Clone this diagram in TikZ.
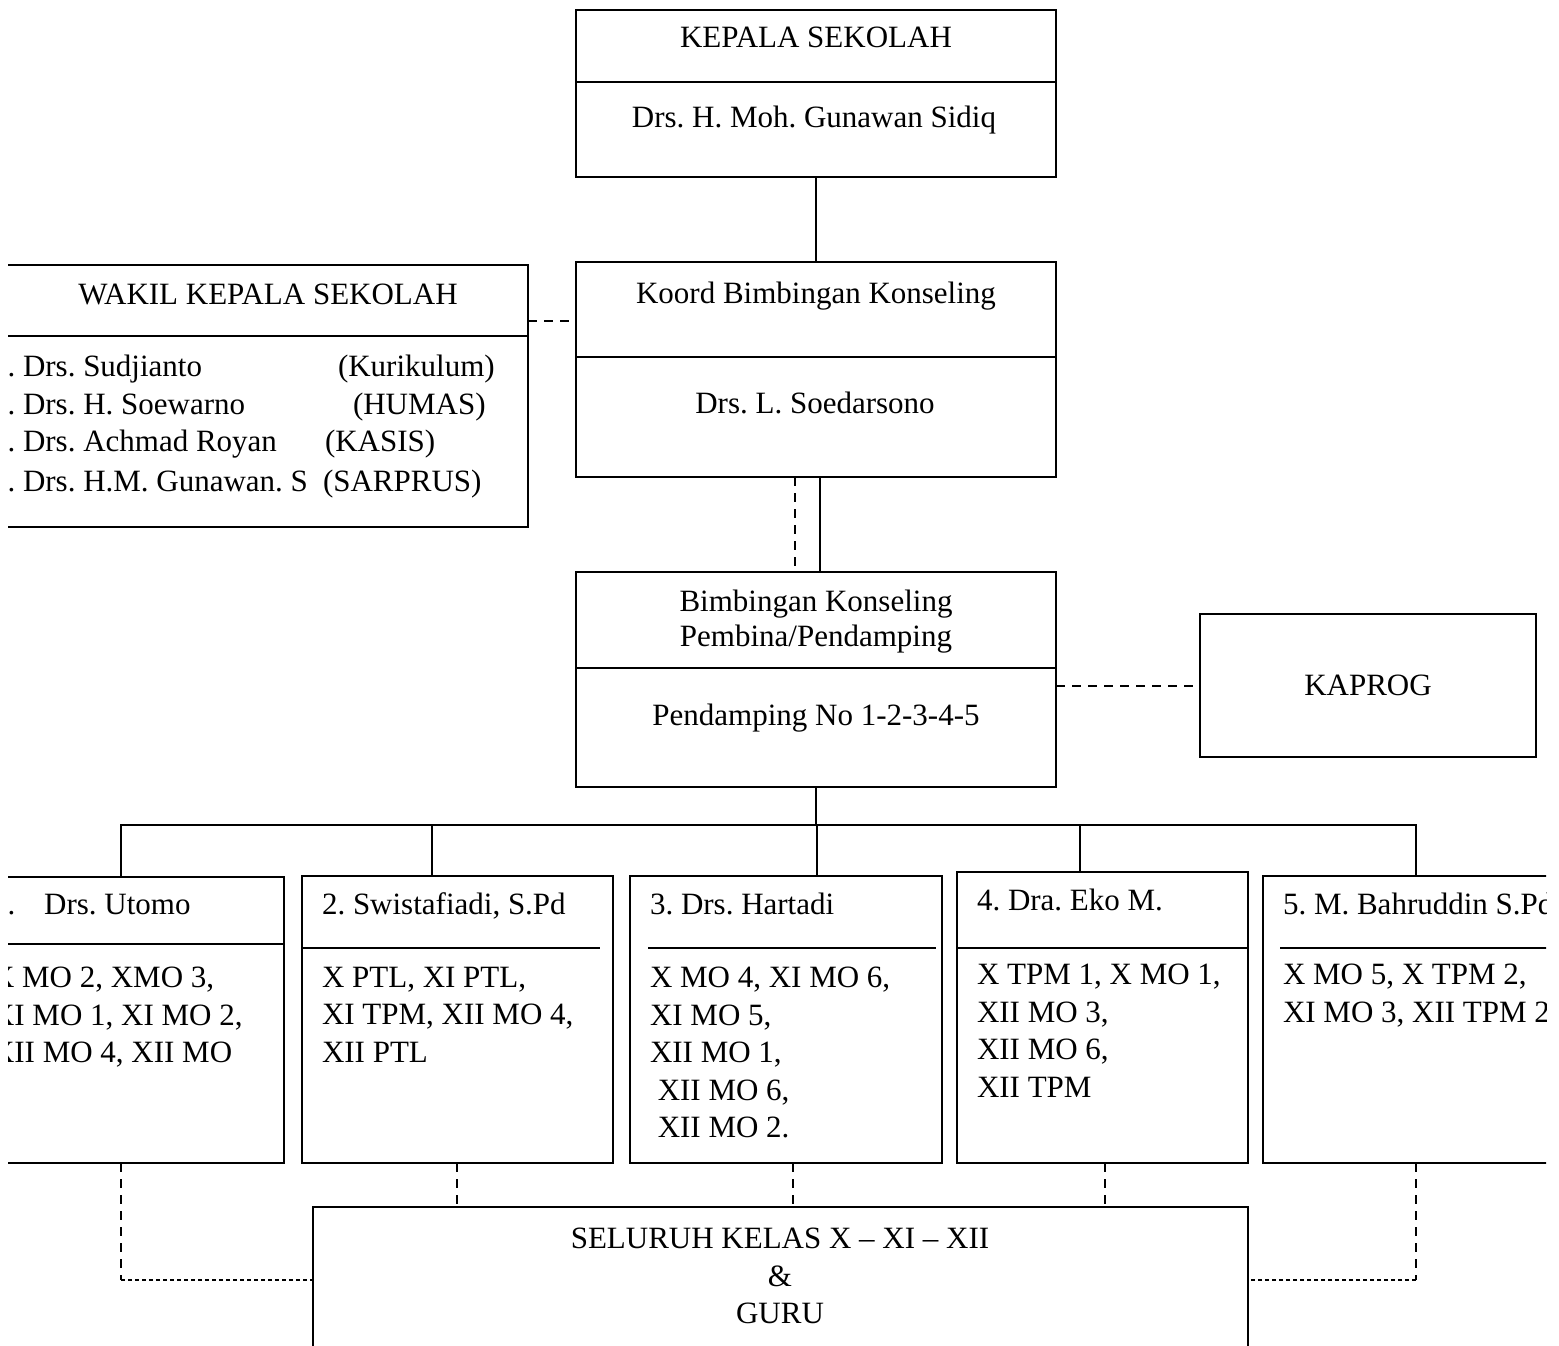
\documentclass[tikz,border=0pt]{standalone}
\usepackage{fontspec}
\setmainfont{Liberation Serif}
\frenchspacing
\usetikzlibrary{calc}
\tikzset{
    every picture/.style = {
        x = 1pt,
        y = 1pt,
        line width = 2pt
    },
    box/.style 2 args = {
        draw,
        inner sep = 0pt,
        outer sep = 0pt,
        minimum width = #1pt,
        minimum height = #2pt
    },
    title/.style = {
        inner sep = 0pt,
        outer sep = 0pt,
        anchor = base
    },
    entry/.style = {
        title,
        anchor = base west
    },
    list/.style = {
        inner sep = 0pt,
        outer sep = 0pt,
        align = left,
        anchor = north west
    },
    rule/.style = {line width = 1.6pt},
    dashlink/.style = {dash pattern = on 9pt off 7pt},
    dotlink/.style = {line width = 2.6pt, dash pattern = on 4pt off 3pt}
}

\begin{document}
\begin{tikzpicture}[font = \fontsize{31}{37.5}\selectfont]
    \useasboundingbox (0,0) rectangle (1559,-1346);
    \begin{scope}
    \clip (8,0) rectangle (1546,-1346);

    % kepala sekolah
    \node[box={480}{167}] (kepala) at (816,-93.5) {};
    \node[title] (kepalaT) at (816,-48) {KEPALA SEKOLAH};
    \node[title] (kepalaN) at (814,-128) {Drs. H. Moh. Gunawan Sidiq};
    \draw[rule] (kepala.west |- 0,-82) -- (kepala.east |- 0,-82);

    % wakil
    \node[box={548}{262}] (wakil) at (254,-396) {};
    \node[title] (wakilT) at (268,-304) {WAKIL KEPALA SEKOLAH};
    \draw[rule] (wakil.west |- 0,-336) -- (wakil.east |- 0,-336);
    \foreach \who/\role/\y/\x [count=\i] in {Drs. Sudjianto/Kurikulum/376/338,
            Drs. H. Soewarno/HUMAS/414/353,
            Drs. Achmad Royan/KASIS/451/325,
            Drs. H.M. Gunawan. S/SARPRUS/491/323} {
        \node[entry] (wakil\i) at (-8,-\y) {\i. \who};
        \node[entry] (role\i) at (\x,-\y) {(\role)};
    }

    % koordinator
    \node[box={480}{215}] (koord) at (816,-369.5) {};
    \node[title] (koordT) at (816,-303) {Koord Bimbingan Konseling};
    \node[title] (koordN) at (815,-413) {Drs. L. Soedarsono};
    \draw[rule] (koord.west |- 0,-357) -- (koord.east |- 0,-357);

    % pembina
    \node[box={480}{215}] (bimb) at (816,-679.5) {};
    \node[title] (bimbT) at (816,-611) {Bimbingan Konseling};
    \node[title] (bimbS) at (816,-646) {Pembina/Pendamping};
    \node[title] (bimbN) at (816,-725) {Pendamping No 1-2-3-4-5};
    \draw[rule] (bimb.west |- 0,-668) -- (bimb.east |- 0,-668);

    \node[box={336}{143}] (kaprog) at (1368,-685.5) {KAPROG};

    % pendamping
    \node[box={304}{286}] (b1) at (132,-1020) {};
    \node[box={311}{287}] (b2) at (457.5,-1019.5) {};
    \node[box={312}{287}] (b3) at (786,-1019.5) {};
    \node[box={291}{291}] (b4) at (1102.5,-1017.5) {};
    \node[box={317}{287}] (b5) at (1421.5,-1019.5) {};
    \draw[rule] (b1.west |- 0,-944) -- (b1.east |- 0,-944);
    \draw[rule] (b2.west |- 0,-948) -- (600,-948);
    \draw[rule] (648,-948) -- (936,-948);
    \draw[rule] (b4.west |- 0,-948) -- (b4.east |- 0,-948);
    \draw[rule] (1280,-948) -- (b5.east |- 0,-948);

    \node[entry] (b1T) at (-8,-914) {1.\hspace{29pt}Drs. Utomo};
    \node[entry] (b2T) at (322,-914) {2. Swistafiadi, S.Pd};
    \node[entry] (b3T) at (650,-914) {3. Drs. Hartadi};
    \node[entry] (b4T) at (977,-910) {4. Dra. Eko M.};
    \node[entry] (b5T) at (1283,-914) {5. M. Bahruddin S.Pd};

    \node[list] (b1L) at (-8,-967) {X MO 2, XMO 3,\\XI MO 1, XI MO 2,\\XII MO 4, XII MO};
    \node[list] (b2L) at (322,-967) {X PTL, XI PTL,\\XI TPM, XII MO 4,\\XII PTL};
    \node[list] (b3L) at (650,-967) {X MO 4, XI MO 6,\\XI MO 5,\\XII MO 1,\\\ XII MO 6,\\\ XII MO 2.};
    \node[list] (b4L) at (977,-964) {X TPM 1, X MO 1,\\XII MO 3,\\XII MO 6,\\XII TPM};
    \node[list] (b5L) at (1283,-964) {X MO 5, X TPM 2,\\XI MO 3, XII TPM 2};

    % kelas dan guru
    \node[box={935}{213}] (guru) at (780.5,-1313.5) {};
    \node[list, align=center, anchor=north] (guruT) at (780,-1228) {SELURUH KELAS X – XI – XII\\\&\\GURU};

    % garis
    \draw (kepala.south) -- (koord.north);
    \draw[dashlink] (wakil.east |- 0,-321) -- (koord.west |- 0,-321);
    \draw ([xshift=4pt]koord.south) -- ([xshift=4pt]bimb.north);
    \draw[dashlink] ([xshift=-21pt]koord.south) -- ([xshift=-21pt]bimb.north);
    \draw[dashlink] (bimb.east |- kaprog.west) -- (kaprog.west);

    \coordinate (bus) at (816,-825);
    \draw (bimb.south) -- (bus);
    \foreach \n/\x in {b1/121, b2/432, b3/817, b4/1080, b5/1416}
        \draw (\n.north -| \x,0) |- (bus);

    \foreach \n/\x in {b2/457, b3/793, b4/1105}
        \draw[dashlink] (\n.south -| \x,0) -- (guru.north -| \x,0);
    \coordinate (cl) at (121,-1280);
    \coordinate (cr) at (1416,-1280);
    \draw[dashlink] (b1.south -| cl) -- (cl);
    \draw[dotlink] (cl) -- (guru.west |- cl);
    \draw[dashlink] (b5.south -| cr) -- (cr);
    \draw[dotlink] (cr) -- (guru.east |- cr);
    \end{scope}
\end{tikzpicture}
\end{document}
